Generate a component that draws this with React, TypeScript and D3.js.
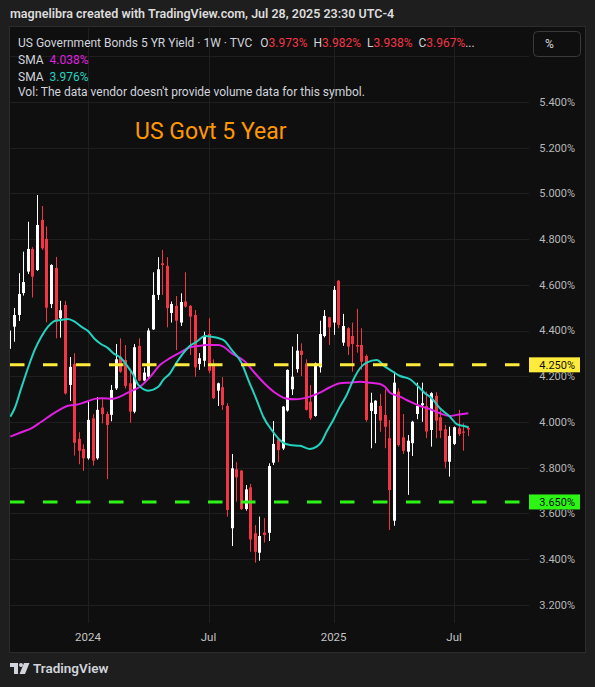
import React from 'react';
import * as d3 from 'd3';

const W = 595;
const H = 687;

// Weekly candles, index 0 = week of 2023-09-04
const startWeek = '2023-09-04';
const opens = [4.32, 4.417, 4.468, 4.564, 4.658, 4.757, 4.665, 4.884, 4.801, 4.516, 4.674, 4.454, 4.512, 4.162, 4.254, 3.926, 3.882, 3.841, 4.016, 3.841, 4.063, 4.035, 4.031, 4.147, 4.286, 4.271, 4.169, 4.045, 4.333, 4.181, 4.198, 4.405, 4.556, 4.694, 4.683, 4.477, 4.508, 4.435, 4.527, 4.508, 4.468, 4.254, 4.268, 4.385, 4.249, 4.137, 4.152, 4.070, 3.535, 3.793, 3.787, 3.619, 3.714, 3.513, 3.428, 3.516, 3.515, 3.822, 3.924, 3.884, 4.050, 4.143, 4.231, 4.312, 4.256, 4.089, 4.026, 4.239, 4.376, 4.458, 4.435, 4.618, 4.347, 4.410, 4.376, 4.337, 4.337, 4.289, 4.048, 4.035, 4.070, 4.031, 3.929, 3.568, 4.133, 3.933, 3.870, 3.907, 4.035, 4.073, 4.070, 3.965, 4.114, 4.021, 3.968, 3.826, 3.904, 3.972, 3.958, 3.973];
const highs = [4.41, 4.499, 4.651, 4.745, 4.876, 4.765, 4.993, 4.945, 4.856, 4.690, 4.722, 4.530, 4.530, 4.284, 4.301, 3.955, 3.902, 4.096, 4.034, 4.109, 4.102, 4.045, 4.162, 4.341, 4.366, 4.337, 4.220, 4.341, 4.366, 4.238, 4.410, 4.655, 4.721, 4.753, 4.721, 4.527, 4.551, 4.563, 4.655, 4.512, 4.490, 4.301, 4.395, 4.454, 4.274, 4.172, 4.196, 4.082, 3.860, 3.824, 3.790, 3.724, 3.729, 3.549, 3.586, 3.579, 3.819, 4.004, 3.924, 4.070, 4.230, 4.330, 4.385, 4.344, 4.274, 4.162, 4.260, 4.443, 4.490, 4.460, 4.595, 4.621, 4.473, 4.415, 4.435, 4.495, 4.410, 4.295, 4.128, 4.095, 4.123, 4.143, 4.009, 4.220, 4.147, 4.035, 3.943, 4.005, 4.172, 4.172, 4.133, 4.130, 4.130, 4.050, 3.987, 3.979, 3.980, 4.053, 3.994, 3.982];
const lows = [4.30, 4.351, 4.442, 4.553, 4.647, 4.545, 4.661, 4.753, 4.436, 4.498, 4.366, 4.369, 4.120, 4.092, 3.853, 3.815, 3.786, 3.835, 3.809, 3.835, 3.994, 3.750, 4.003, 4.140, 4.215, 4.147, 3.997, 4.038, 4.178, 4.178, 4.191, 4.403, 4.534, 4.556, 4.414, 4.435, 4.315, 4.420, 4.500, 4.293, 4.198, 4.228, 4.242, 4.213, 4.100, 4.070, 4.053, 3.586, 3.457, 3.651, 3.615, 3.612, 3.432, 3.384, 3.393, 3.472, 3.479, 3.812, 3.824, 3.877, 4.045, 4.118, 4.216, 4.201, 4.050, 4.009, 4.023, 4.216, 4.370, 4.337, 4.381, 4.410, 4.333, 4.293, 4.220, 4.303, 4.228, 4.001, 3.885, 3.907, 3.957, 3.885, 3.527, 3.546, 3.892, 3.860, 3.681, 3.851, 4.012, 4.001, 3.929, 3.892, 3.929, 3.929, 3.797, 3.761, 3.899, 3.939, 3.874, 3.938];
const closes = [4.40, 4.468, 4.560, 4.612, 4.757, 4.636, 4.862, 4.760, 4.500, 4.687, 4.439, 4.489, 4.125, 4.241, 3.909, 3.874, 3.841, 4.009, 3.831, 4.053, 4.034, 3.987, 4.140, 4.274, 4.220, 4.158, 4.045, 4.327, 4.181, 4.216, 4.400, 4.556, 4.668, 4.687, 4.498, 4.516, 4.443, 4.525, 4.505, 4.461, 4.239, 4.279, 4.376, 4.224, 4.104, 4.169, 4.074, 3.615, 3.797, 3.758, 3.619, 3.705, 3.486, 3.432, 3.501, 3.505, 3.807, 3.904, 3.877, 4.067, 4.228, 4.198, 4.312, 4.293, 4.053, 4.016, 4.256, 4.385, 4.464, 4.414, 4.578, 4.425, 4.420, 4.330, 4.341, 4.330, 4.264, 4.009, 4.084, 4.093, 4.006, 3.979, 3.702, 4.172, 3.899, 3.874, 3.918, 4.001, 4.070, 4.082, 3.958, 4.126, 4.006, 3.962, 3.826, 3.939, 3.977, 3.947, 3.953, 3.967];

// SMA lines: [week index, value]
const smaFastWeeks = [0.22, 1.17, 2.6, 4.04, 5.49, 6.91, 8.36, 9.8, 11.23, 12.67, 14.12, 15.54, 16.99, 18.44, 19.86, 21.31, 22.45, 23.9, 25.34, 26.77, 27.85, 30.0, 32.16, 33.24, 34.69, 36.13, 37.56, 39.0, 40.45, 42.24, 43.68, 46.19, 48.0, 50.16, 51.58, 53.4, 54.82, 56.63, 58.79, 60.58, 62.74, 64.9, 66.34, 67.42, 68.5, 69.93, 71.37, 72.82, 74.24, 75.69, 77.13, 79.29, 81.08, 82.16, 84.32, 86.48, 87.92, 89.71, 91.16, 92.95, 95.11, 96.55, 98.71, 99.06];
const smaFastValues = [4.023, 4.060, 4.149, 4.236, 4.315, 4.373, 4.417, 4.442, 4.446, 4.451, 4.439, 4.417, 4.398, 4.363, 4.340, 4.323, 4.301, 4.283, 4.249, 4.206, 4.162, 4.137, 4.154, 4.184, 4.213, 4.260, 4.301, 4.333, 4.351, 4.376, 4.373, 4.359, 4.315, 4.257, 4.184, 4.096, 4.023, 3.965, 3.914, 3.899, 3.896, 3.882, 3.892, 3.914, 3.958, 4.009, 4.067, 4.118, 4.184, 4.235, 4.260, 4.271, 4.242, 4.228, 4.201, 4.187, 4.162, 4.126, 4.104, 4.060, 4.023, 3.991, 3.979, 3.976];
const smaSlowWeeks = [0.22, 2.6, 4.75, 6.91, 9.07, 11.23, 12.67, 14.12, 16.28, 18.44, 19.86, 22.45, 23.9, 26.05, 28.21, 30.37, 32.53, 34.69, 36.84, 39.0, 41.16, 42.24, 45.11, 46.19, 48.0, 50.87, 53.03, 55.19, 57.35, 59.5, 61.66, 64.9, 67.05, 69.21, 71.37, 73.53, 75.69, 77.85, 80.01, 81.08, 82.16, 84.32, 86.48, 88.64, 90.79, 92.95, 95.11, 96.55, 99.06];
const smaSlowValues = [3.936, 3.955, 3.972, 4.001, 4.031, 4.057, 4.071, 4.074, 4.086, 4.101, 4.104, 4.102, 4.111, 4.133, 4.154, 4.196, 4.249, 4.279, 4.303, 4.327, 4.333, 4.337, 4.337, 4.330, 4.301, 4.264, 4.213, 4.166, 4.128, 4.104, 4.099, 4.111, 4.128, 4.152, 4.169, 4.172, 4.176, 4.172, 4.166, 4.154, 4.128, 4.111, 4.089, 4.070, 4.056, 4.038, 4.026, 4.031, 4.038];

const yTicks = [3.2, 3.4, 3.6, 3.8, 4.0, 4.2, 4.4, 4.6, 4.8, 5.0, 5.2, 5.4, 5.6];
const timeTicks = ['2024-01-01', '2024-07-01', '2025-01-06', '2025-07-07'];
const timeTickLabels = ['2024', 'Jul', '2025', 'Jul'];
const levelValues = [4.25, 3.65];
const levelColors = ['#ffeb3b', '#2cf516'];

const FONT = 'Roboto, "Noto Sans", sans-serif';

const weekMs = 7 * 24 * 3600 * 1000;
const start = Date.parse(startWeek + 'T00:00:00Z');
const weekIndex = (s: string) => (Date.parse(s + 'T00:00:00Z') - start) / weekMs;

export default function App() {
  const x = d3.scaleLinear().domain([0, 99]).range([9.27, 468]);
  const y = d3.scaleLinear().domain([3.2, 5.4]).range([604.8, 102]);

  const plotL = 10, plotR = 529, plotT = 28, plotB = 623;

  const fastLine = d3.line<number>()
    .x((_, i) => x(smaFastWeeks[i]))
    .y((d) => y(d))
    .curve(d3.curveMonotoneX)(smaFastValues) || '';
  const slowLine = d3.line<number>()
    .x((_, i) => x(smaSlowWeeks[i]))
    .y((d) => y(d))
    .curve(d3.curveMonotoneX)(smaSlowValues) || '';

  const red = '#f23645';
  const txt = '#d1d4dc';

  // tick labels hidden partly behind the level boxes are clipped so they don't overlap
  const boxRects = levelValues.map((v) => ({ y0: y(v) - 7.5, y1: y(v) + 7.5 }));

  return (
    <svg width={W} height={H} style={{ position: 'absolute', left: 0, top: 0 }} fontFamily={FONT}>
      <defs>
        <clipPath id="plot">
          <rect x={plotL} y={plotT} width={plotR - plotL} height={plotB - plotT} />
        </clipPath>
      </defs>
      <rect x={0} y={0} width={W} height={H} fill="#1e1e1e" />
      <text x={10} y={18} fontSize={12.5} fontWeight={600} fill="#dcdcdc">
        magnelibra created with TradingView.com, Jul 28, 2025 23:30 UTC-4
      </text>
      <rect x={9.5} y={26.5} width={576} height={626} fill="#0f0f0f" stroke="#2c2c2c" />

      {/* grid */}
      {yTicks.map((t) => (
        <line key={'g' + t} x1={plotL} x2={plotR} y1={Math.round(y(t)) + 0.5} y2={Math.round(y(t)) + 0.5} stroke="#1f1f1f" />
      ))}
      {timeTicks.map((t) => (
        <line key={'v' + t} x1={Math.round(x(weekIndex(t))) + 0.5} x2={Math.round(x(weekIndex(t))) + 0.5} y1={plotT} y2={plotB} stroke="#1f1f1f" />
      ))}

      {/* candles */}
      <g clipPath="url(#plot)">
        {opens.map((o, i) => {
          const c = closes[i];
          const up = c >= o;
          const col = up ? '#ffffff' : red;
          const cx = Math.round(x(i)) + 0.5;
          const top = y(Math.max(o, c));
          const bot = y(Math.min(o, c));
          return (
            <g key={'c' + i}>
              <line x1={cx} x2={cx} y1={y(highs[i])} y2={y(lows[i])} stroke={col} strokeWidth={1} />
              <rect x={cx - 1.5} y={top} width={3} height={Math.max(1, bot - top)} fill={col} />
            </g>
          );
        })}
        <path d={slowLine} fill="none" stroke="#e020e0" strokeWidth={2} />
        <path d={fastLine} fill="none" stroke="#22d3c0" strokeWidth={2} />
      </g>

      {/* horizontal levels */}
      {levelValues.map((v, i) => (
        <line key={'l' + v} x1={10} x2={522} y1={y(v)} y2={y(v)} stroke={levelColors[i]} strokeWidth={3} strokeDasharray="14.5 18.5" />
      ))}

      {/* price axis */}
      {yTicks.filter((t) => t < 5.5).map((t) => {
        const ty = y(t);
        const hit = boxRects.find((b) => ty + 5 > b.y0 && ty - 5 < b.y1);
        return (
          <g key={'t' + t}>
            {hit ? (
              <clipPath id={'ck' + t}>
                <rect x={520} y={hit.y1} width={70} height={20} />
              </clipPath>
            ) : null}
            <text x={575} y={ty} dy="0.35em" textAnchor="end" fontSize={11} fill="#b8b8b8"
              clipPath={hit ? `url(#ck${t})` : undefined}>
              {t.toFixed(3)}%
            </text>
          </g>
        );
      })}
      {levelValues.map((v, i) => (
        <g key={'b' + v}>
          <rect x={529} y={y(v) - 7.5} width={51} height={15} fill={levelColors[i]} />
          <text x={575} y={y(v)} dy="0.35em" textAnchor="end" fontSize={11} fill="#111">
            {v.toFixed(3)}%
          </text>
        </g>
      ))}

      {/* time axis */}
      {timeTicks.map((t, i) => (
        <text key={'x' + t} x={x(weekIndex(t))} y={641} textAnchor="middle" fontSize={11.5} fill="#c4c4c4">
          {timeTickLabels[i]}
        </text>
      ))}

      {/* title */}
      <text x={135} y={139} fontSize={23} fill="#ff9800">US Govt 5 Year</text>

      {/* legend */}
      <text x={18} y={47} fontSize={12} fill={txt}>
        US Government Bonds 5 YR Yield · 1W · TVC
        <tspan dx={8}>O</tspan><tspan fill={red}>3.973%</tspan>
        <tspan dx={6}>H</tspan><tspan fill={red}>3.982%</tspan>
        <tspan dx={6}>L</tspan><tspan fill={red}>3.938%</tspan>
        <tspan dx={6}>C</tspan><tspan fill={red}>3.967%</tspan><tspan>...</tspan>
      </text>
      <text x={18} y={64} fontSize={12} fill={txt}>
        SMA<tspan dx={6} fill="#e020e0">4.038%</tspan>
      </text>
      <text x={18} y={81} fontSize={12} fill={txt}>
        SMA<tspan dx={6} fill="#22d3c0">3.976%</tspan>
      </text>
      <text x={18} y={96} fontSize={12} fill={txt}>
        Vol: The data vendor doesn't provide volume data for this symbol.
      </text>

      {/* % button */}
      <rect x={533.5} y={31.5} width={47} height={25} rx={4} fill="#0f0f0f" stroke="#3a3a3a" />
      <text x={545} y={44} dy="0.35em" fontSize={12} fill={txt}>%</text>

      {/* logo */}
      <g fill="#d1d4dc">
        <path d="M10 663 H18 V674 H14 V667 H10 Z" />
        <circle cx={21} cy={665} r={2} />
        <path d="M24 663 H29.5 L25 674 H19.5 Z" />
      </g>
      <text x={33} y={673} fontSize={13.5} fontWeight={600} fill="#d1d4dc">TradingView</text>
    </svg>
  );
}
